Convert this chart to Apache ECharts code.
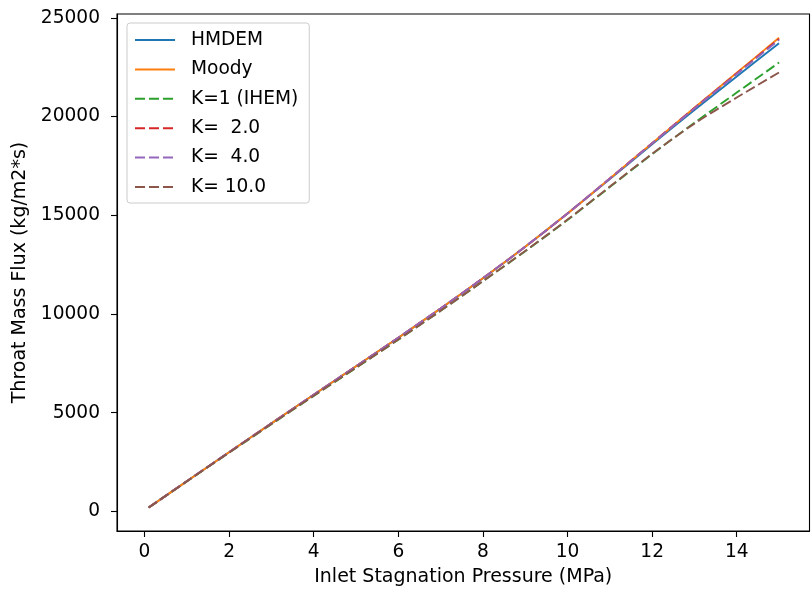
<!DOCTYPE html>
<html>
<head>
<meta charset="utf-8">
<script src="https://cdn.jsdelivr.net/npm/echarts@6/dist/echarts.min.js"></script>
<style>html,body{margin:0;padding:0;background:#fff;}#c{width:812px;height:592px;}</style>
</head>
<body>
<div id="c"></div>
<script>
const pressure = [0.1, 1, 2, 3, 4, 5, 6, 7, 8, 9, 10, 11, 12, 13, 14, 15];
const hmdem = [200, 1530, 3000, 4460, 5910, 7350, 8800, 10280, 11810, 13410, 15090, 16830, 18590, 20330, 22030, 23710];
const moody = [200, 1530, 3000, 4460, 5910, 7350, 8800, 10280, 11810, 13410, 15090, 16860, 18650, 20440, 22210, 23990];
const k1 = [200, 1520, 2975, 4420, 5850, 7270, 8700, 10160, 11660, 13180, 14760, 16430, 18090, 19680, 21210, 22730];
const k2 = [200, 1530, 3000, 4460, 5910, 7350, 8800, 10280, 11810, 13410, 15090, 16860, 18650, 20430, 22180, 23930];
const k4 = [200, 1530, 3000, 4460, 5910, 7350, 8800, 10280, 11810, 13410, 15090, 16860, 18640, 20410, 22150, 23880];
const k10 = [200, 1525, 2985, 4430, 5860, 7280, 8705, 10160, 11660, 13190, 14780, 16450, 18110, 19640, 20960, 22230];
const seriesNames = ['HMDEM', 'Moody', 'K=1 (IHEM)', 'K=  2.0', 'K=  4.0', 'K= 10.0'];
const xTicks = [0, 2, 4, 6, 8, 10, 12, 14];
const yTicks = [0, 5000, 10000, 15000, 20000, 25000];

const colors = ['#1f77b4', '#ff7f0e', '#2ca02c', '#d62728', '#9467bd', '#8c564b'];
const values = [hmdem, moody, k1, k2, k4, k10];
const dashed = [false, false, true, true, true, true];
const FS = 18.6;
const FS_NAME = 19;
const FONT = 'DejaVu Sans';

const series = values.map((v, i) => ({
  name: seriesNames[i],
  type: 'line',
  data: pressure.map((p, j) => [p, v[j]]),
  symbol: 'none',
  smooth: 0.3,
  lineStyle: { color: colors[i], width: 1.9, type: dashed[i] ? [10, 4] : 'solid' },
  itemStyle: { color: colors[i] },
  animation: false
}));

const chart = echarts.init(document.getElementById('c'), null, { renderer: 'canvas' });
chart.setOption({
  animation: false,
  backgroundColor: '#fff',
  color: colors,
  grid: { left: 117, right: 2.5, top: 14, bottom: 60.3, show: true, borderColor: '#000', borderWidth: 1.1, backgroundColor: 'transparent' },
  legend: {
    orient: 'vertical', left: 127, top: 23,
    data: seriesNames,
    itemWidth: 40, itemHeight: 20, itemGap: 9.4,
    padding: [7, 11, 6, 7],
    backgroundColor: 'rgba(255,255,255,0.8)',
    borderColor: '#cccccc', borderWidth: 1, borderRadius: 3,
    itemStyle: { opacity: 0 },
    textStyle: { fontFamily: FONT, fontSize: FS, color: '#000', padding: [0, 0, 0, 11], lineHeight: 20 }
  },
  xAxis: {
    type: 'value', min: -0.65, max: 15.72,
    name: 'Inlet Stagnation Pressure (MPa)', nameLocation: 'middle', nameGap: 37,
    nameTextStyle: { fontFamily: FONT, fontSize: FS_NAME, color: '#000' },
    axisLine: { show: true, onZero: false, lineStyle: { color: '#000', width: 1.1 } },
    axisTick: { show: true, inside: false, length: 6, lineStyle: { color: '#000', width: 1.1 }, customValues: xTicks },
    axisLabel: { fontFamily: FONT, fontSize: FS, color: '#000', margin: 12, customValues: xTicks, formatter: v => String(v) },
    splitLine: { show: false }
  },
  yAxis: {
    type: 'value', min: -990, max: 25190,
    name: 'Throat Mass Flux (kg/m2*s)', nameLocation: 'middle', nameGap: 86,
    nameTextStyle: { fontFamily: FONT, fontSize: FS_NAME, color: '#000' },
    axisLine: { show: true, onZero: false, lineStyle: { color: '#000', width: 1.1 } },
    axisTick: { show: true, inside: false, length: 6, lineStyle: { color: '#000', width: 1.1 }, customValues: yTicks },
    axisLabel: { fontFamily: FONT, fontSize: FS, color: '#000', margin: 17, customValues: yTicks, formatter: v => String(v) },
    splitLine: { show: false }
  },
  series: series
});
</script>
</body>
</html>
